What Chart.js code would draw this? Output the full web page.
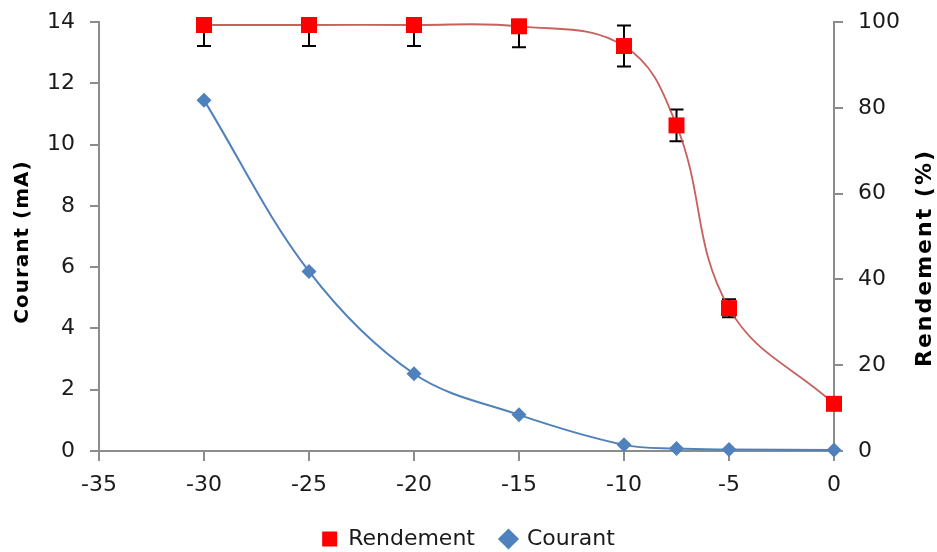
<!DOCTYPE html>
<html>
<head>
<meta charset="utf-8">
<script src="https://cdn.jsdelivr.net/npm/chart.js@4.4.1/dist/chart.umd.min.js"></script>
<style>
    body { margin: 0; background: #fff; }
    #wrap { width: 937px; height: 552px; }
</style>
</head>
<body>
<div id="wrap"><canvas id="chart"></canvas></div>
<script>
// tension (V) on the x axis
const xValues = [-30, -25, -20, -15, -10, -7.5, -5, 0];
// rendement (%) and its error bars
const rendement = [99.3, 99.3, 99.3, 99.0, 94.4, 75.9, 33.3, 11.0];
const rendementErr = [4.9, 4.9, 4.9, 4.9, 4.8, 3.7, 2.1, 1.2];
// courant (mA)
const courant = [11.45, 5.86, 2.52, 1.18, 0.2, 0.08, 0.05, 0.03];

const xTicks = { min: -35, max: 0, step: 5 };
const yLeftTicks = { min: 0, max: 14, step: 2 };
const yRightTicks = { min: 0, max: 100, step: 20 };

const axisColor = "#8c8c8c";
const textColor = "#1a1a1a";
const fontFamily = "'DejaVu Sans', Verdana, sans-serif";

function toPoints(ys) {
    return xValues.map((x, i) => ({ x: x, y: ys[i] }));
}

// error bars drawn under the red squares
const errorBars = {
    id: "errorBars",
    beforeDatasetDraw(chart, args) {
        if (args.index !== 0) return;
        const ctx = chart.ctx;
        const xs = chart.scales.x;
        const ys = chart.scales.y1;
        const area = chart.chartArea;
        ctx.save();
        ctx.beginPath();
        ctx.rect(area.left, area.top, area.right - area.left, area.bottom - area.top);
        ctx.clip();
        ctx.strokeStyle = "#000";
        ctx.lineWidth = 2;
        for (let i = 0; i < xValues.length; i++) {
            const px = xs.getPixelForValue(xValues[i]);
            const top = ys.getPixelForValue(rendement[i] + rendementErr[i]);
            const bot = ys.getPixelForValue(rendement[i] - rendementErr[i]);
            ctx.beginPath();
            ctx.moveTo(px, top);
            ctx.lineTo(px, bot);
            ctx.moveTo(px - 7, top);
            ctx.lineTo(px + 7, top);
            ctx.moveTo(px - 7, bot);
            ctx.lineTo(px + 7, bot);
            ctx.stroke();
        }
        ctx.restore();
    }
};

// both axis titles read bottom to top
const axisTitles = {
    id: "axisTitles",
    afterDraw(chart) {
        const ctx = chart.ctx;
        ctx.save();
        ctx.fillStyle = "#000";
        ctx.textAlign = "center";
        ctx.textBaseline = "middle";

        ctx.save();
        ctx.translate(23, 242);
        ctx.rotate(-Math.PI / 2);
        ctx.font = "bold 20px " + fontFamily;
        ctx.letterSpacing = "1px";
        ctx.fillText("Courant (mA)", 0, 0);
        ctx.restore();

        ctx.save();
        ctx.translate(925, 258);
        ctx.rotate(-Math.PI / 2);
        ctx.font = "bold 22px " + fontFamily;
        ctx.letterSpacing = "2px";
        ctx.fillText("Rendement (%)", 0, 0);
        ctx.restore();

        ctx.restore();
    }
};

const ctx = document.getElementById("chart");
new Chart(ctx, {
    type: "line",
    data: {
        datasets: [{
            label: "Rendement",
            data: toPoints(rendement),
            yAxisID: "y1",
            borderColor: "rgba(192, 80, 77, 0.9)",
            borderWidth: 1.8,
            backgroundColor: "#ff0000",
            pointStyle: "rect",
            pointRadius: 11.3,
            pointBorderWidth: 0,
            pointBackgroundColor: "#ff0000",
            tension: 0.4,
            clip: false
        }, {
            label: "Courant",
            data: toPoints(courant),
            yAxisID: "y",
            borderColor: "#4f81bd",
            borderWidth: 2,
            backgroundColor: "#4f81bd",
            pointStyle: "rectRot",
            pointRadius: 7.5,
            pointBorderWidth: 0,
            pointBackgroundColor: "#4f81bd",
            tension: 0.35,
            clip: false
        }]
    },
    options: {
        responsive: true,
        maintainAspectRatio: false,
        animation: false,
        layout: {
            padding: { top: 22, left: 0, right: 0, bottom: -8 }
        },
        plugins: {
            legend: {
                position: "bottom",
                labels: {
                    usePointStyle: true,
                    boxHeight: 15,
                    boxWidth: 15,
                    padding: 26,
                    color: textColor,
                    font: { family: fontFamily, size: 22 }
                }
            },
            tooltip: { enabled: false }
        },
        scales: {
            x: {
                type: "linear",
                min: xTicks.min,
                max: xTicks.max,
                afterFit: s => { s.height = 51 },
                ticks: {
                    stepSize: xTicks.step,
                    padding: 11,
                    color: textColor,
                    font: { family: fontFamily, size: 22 }
                },
                grid: {
                    drawOnChartArea: false,
                    tickLength: 10,
                    color: axisColor,
                    lineWidth: 2
                },
                border: { color: axisColor, width: 2 }
            },
            y: {
                position: "left",
                min: yLeftTicks.min,
                max: yLeftTicks.max,
                afterFit: s => { s.width = 99 },
                ticks: {
                    stepSize: yLeftTicks.step,
                    padding: 15,
                    color: textColor,
                    font: { family: fontFamily, size: 22, lineHeight: 0.5 }
                },
                grid: {
                    drawOnChartArea: false,
                    tickLength: 9,
                    color: axisColor,
                    lineWidth: 2
                },
                border: { color: axisColor, width: 2 }
            },
            y1: {
                position: "right",
                min: yRightTicks.min,
                max: yRightTicks.max,
                afterFit: s => { s.width = 103 },
                ticks: {
                    stepSize: yRightTicks.step,
                    padding: 15,
                    color: textColor,
                    font: { family: fontFamily, size: 22, lineHeight: 0.5 }
                },
                grid: {
                    drawOnChartArea: false,
                    tickLength: 9,
                    color: axisColor,
                    lineWidth: 2
                },
                border: { color: axisColor, width: 2 }
            }
        }
    },
    plugins: [errorBars, axisTitles]
});
</script>
</body>
</html>
